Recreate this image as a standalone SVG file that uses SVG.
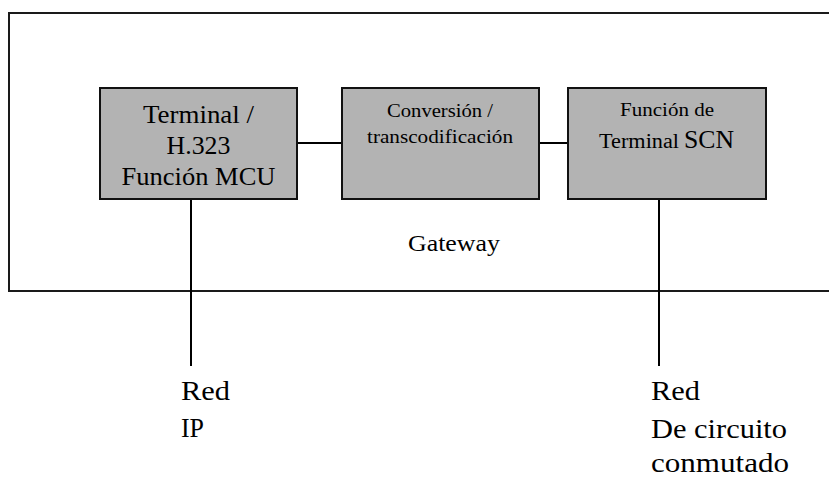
<svg xmlns="http://www.w3.org/2000/svg" width="829" height="477" viewBox="0 0 829 477">
  <defs>
    <style>
      .frame { fill: none; stroke: #1a1a1a; stroke-width: 2; }
      .box { fill: #b3b3b3; stroke: #111; stroke-width: 2; }
      .link { stroke: #000; stroke-width: 2; fill: none; }
      .mid { text-anchor: middle; }
    </style>
  </defs>

  <!-- Gateway enclosure (open to the right edge) -->
  <g id="gateway" font-family="Liberation Serif, serif" fill="#000">
    <rect class="frame" x="9" y="13" width="840" height="278"/>
    <text x="408" y="251" font-size="23" textLength="92" lengthAdjust="spacingAndGlyphs">Gateway</text>
  </g>

  <!-- Connectors -->
  <g id="connectors">
    <line class="link" x1="297" y1="143" x2="342" y2="143"/>
    <line class="link" x1="539" y1="143" x2="568" y2="143"/>
    <line class="link" x1="191" y1="199" x2="191" y2="366"/>
    <line class="link" x1="659" y1="199" x2="659" y2="366"/>
  </g>

  <g id="terminal-h323" font-family="Liberation Serif, serif">
    <rect class="box" x="100" y="88" width="197" height="111"/>
    <text class="mid" x="198.5" y="123" font-size="25" textLength="111" lengthAdjust="spacingAndGlyphs">Terminal /</text>
    <text class="mid" x="198.5" y="154" font-size="25" textLength="64" lengthAdjust="spacingAndGlyphs">H.323</text>
    <text class="mid" x="198.5" y="185" font-size="25" textLength="154" lengthAdjust="spacingAndGlyphs">Función MCU</text>
  </g>

  <g id="conversion" font-family="Liberation Serif, serif">
    <rect class="box" x="342" y="88" width="197" height="111"/>
    <text class="mid" x="440" y="117" font-size="19" textLength="106" lengthAdjust="spacingAndGlyphs">Conversión /</text>
    <text class="mid" x="440" y="143" font-size="19" textLength="146" lengthAdjust="spacingAndGlyphs">transcodificación</text>
  </g>

  <g id="terminal-scn" font-family="Liberation Serif, serif">
    <rect class="box" x="568" y="88" width="198" height="111"/>
    <text class="mid" x="667" y="116" font-size="19" textLength="94" lengthAdjust="spacingAndGlyphs">Función de</text>
    <text x="599" y="148" font-size="20" textLength="80" lengthAdjust="spacingAndGlyphs">Terminal</text>
    <text x="684" y="148" font-size="25" textLength="50" lengthAdjust="spacingAndGlyphs">SCN</text>
  </g>

  <g id="red-ip" font-family="Liberation Serif, serif">
    <text x="181" y="400" font-size="27" textLength="49" lengthAdjust="spacingAndGlyphs">Red</text>
    <text x="181" y="437" font-size="27" textLength="23" lengthAdjust="spacingAndGlyphs">IP</text>
  </g>

  <g id="red-conmutada" font-family="Liberation Serif, serif">
    <text x="651" y="400" font-size="27" textLength="49" lengthAdjust="spacingAndGlyphs">Red</text>
    <text x="651" y="438" font-size="27" textLength="136" lengthAdjust="spacingAndGlyphs">De circuito</text>
    <text x="651" y="472" font-size="27" textLength="138" lengthAdjust="spacingAndGlyphs">conmutado</text>
  </g>
</svg>
